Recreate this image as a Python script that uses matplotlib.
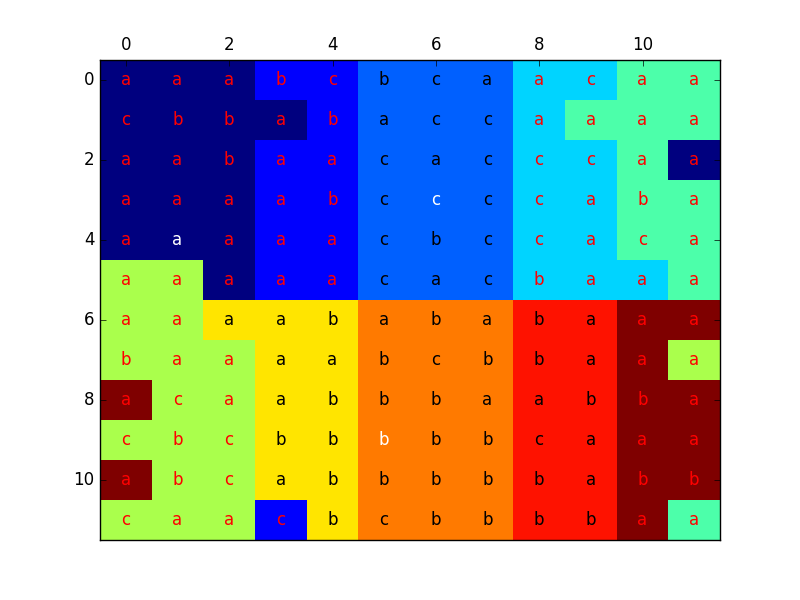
import numpy as np
import matplotlib
matplotlib.use("Agg")
import matplotlib.pyplot as plt

plt.style.use('classic')

# colour level of each cell (0..9 on the jet scale)
levels = [
    [0, 0, 0, 1, 1, 2, 2, 2, 3, 3, 4, 4],
    [0, 0, 0, 0, 1, 2, 2, 2, 3, 4, 4, 4],
    [0, 0, 0, 1, 1, 2, 2, 2, 3, 3, 4, 0],
    [0, 0, 0, 1, 1, 2, 2, 2, 3, 3, 4, 4],
    [0, 0, 0, 1, 1, 2, 2, 2, 3, 3, 4, 4],
    [5, 5, 0, 1, 1, 2, 2, 2, 3, 3, 3, 4],
    [5, 5, 6, 6, 6, 7, 7, 7, 8, 8, 9, 9],
    [5, 5, 5, 6, 6, 7, 7, 7, 8, 8, 9, 5],
    [9, 5, 5, 6, 6, 7, 7, 7, 8, 8, 9, 9],
    [5, 5, 5, 6, 6, 7, 7, 7, 8, 8, 9, 9],
    [9, 5, 5, 6, 6, 7, 7, 7, 8, 8, 9, 9],
    [5, 5, 5, 1, 6, 7, 7, 7, 8, 8, 9, 4],
]

labels = [
    "aaabcbcaacaa",
    "cbbabaccaaaa",
    "aabaacacccaa",
    "aaaabccccaba",
    "aaaaacbccaca",
    "aaaaacacbaaa",
    "aaaabababaaa",
    "baaaabcbbaaa",
    "acaabbbaabba",
    "cbcbbbbbcaaa",
    "abcabbbbbabb",
    "caacbcbbbbaa",
]

# r = red, k = black, w = white
text_colors = [
    "rrrrrkkkrrrr",
    "rrrrrkkkrrrr",
    "rrrrrkkkrrrr",
    "rrrrrkwkrrrr",
    "rwrrrkkkrrrr",
    "rrrrrkkkrrrr",
    "rrkkkkkkkkrr",
    "rrrkkkkkkkrr",
    "rrrkkkkkkkrr",
    "rrrkkwkkkkrr",
    "rrrkkkkkkkrr",
    "rrrrkkkkkkrr",
]
color_names = {'r': 'red', 'k': 'black', 'w': 'white'}

data = np.array(levels)

fig, ax = plt.subplots(figsize=(8, 6), dpi=100)
ax.matshow(data, cmap='jet', vmin=0, vmax=9, aspect='auto')
ax.tick_params(axis='x', bottom=False)

for i in range(data.shape[0]):
    for j in range(data.shape[1]):
        ax.text(j, i, labels[i][j], ha='center', va='center',
                color=color_names[text_colors[i][j]], fontsize=12)

fig.savefig('out.png', facecolor='white')
